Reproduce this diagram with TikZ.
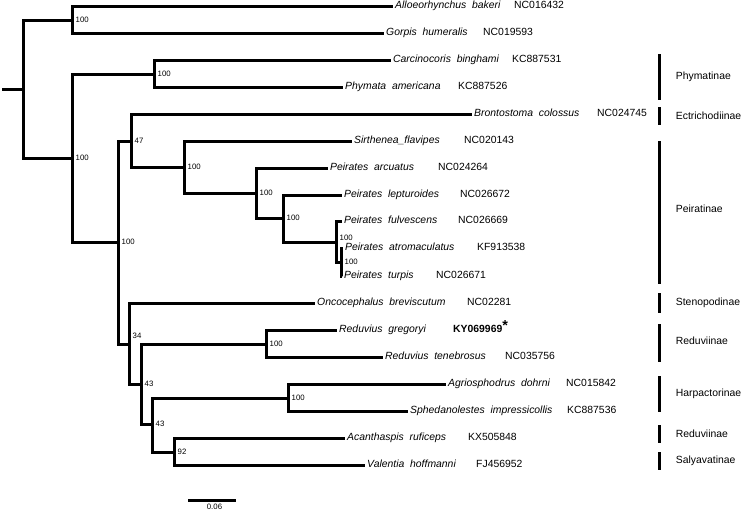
\documentclass[tikz,border=0pt]{standalone}
\usepackage{fontspec}
\setmainfont{Liberation Sans}
\usetikzlibrary{positioning}

\begin{document}
\begin{tikzpicture}[
     x=1pt, y=-1pt,
     % define styles
     branch/.style={
         line width=3pt
     },
     taxon/.style={
         anchor=west,
         inner sep=2pt,
         text height=7pt,
         text depth=2pt,
         font=\fontsize{10.4}{12}\selectfont\itshape
     },
     acc/.style={
         anchor=west,
         inner sep=0pt,
         text height=7pt,
         text depth=2pt,
         font=\fontsize{10.4}{12}\selectfont
     },
     boot/.style={
         anchor=west,
         inner sep=1pt,
         xshift=2.5pt,
         font=\fontsize{7.8}{9}\selectfont
     },
     cbar/.style={
         fill=black,
         inner sep=0pt,
         minimum width=3pt
     },
     clade/.style={
         anchor=west,
         inner sep=0pt,
         font=\fontsize{10.4}{12}\selectfont
     }
]
\useasboundingbox (0,0) rectangle (745,514);

% internal nodes of the tree
\coordinate (root) at (2,89);
\coordinate (nA) at (23,89);
\coordinate (n1) at (72,20);
\coordinate (nB) at (72,158);
\coordinate (nPhy) at (154,74);
\coordinate (nC) at (118,242);
\coordinate (nD) at (131,141);
\coordinate (nE) at (184,167);
\coordinate (nF) at (256,193);
\coordinate (nG) at (283,218);
\coordinate (nH) at (336,242);
\coordinate (nI) at (341,262);
\coordinate (nJ) at (129,344);
\coordinate (nK) at (141,384);
\coordinate (nRed) at (266,344);
\coordinate (nL) at (152,424);
\coordinate (nHarp) at (288,398);
\coordinate (nM) at (174,452);

% taxa and accession numbers
\node[taxon] (t1) at (393,6) {Alloeorhynchus\ \ bakeri};
\node[acc] (a1) at (514,6) {NC016432};
\node[taxon] (t2) at (384,33) {Gorpis\ \ humeralis};
\node[acc] (a2) at (483,33) {NC019593};
\node[taxon] (t3) at (391,60) {Carcinocoris\ \ binghami};
\node[acc] (a3) at (512,60) {KC887531};
\node[taxon] (t4) at (343,87) {Phymata\ \ americana};
\node[acc] (a4) at (458,87) {KC887526};
\node[taxon] (t5) at (472,114) {Brontostoma\ \ colossus};
\node[acc] (a5) at (597,114) {NC024745};
\node[taxon] (t6) at (352,141) {Sirthenea\_flavipes};
\node[acc] (a6) at (464,141) {NC020143};
\node[taxon] (t7) at (328,168) {Peirates\ \ arcuatus};
\node[acc] (a7) at (438,168) {NC024264};
\node[taxon] (t8) at (342,195) {Peirates\ \ lepturoides};
\node[acc] (a8) at (460,195) {NC026672};
\node[taxon] (t9) at (342,221) {Peirates\ \ fulvescens};
\node[acc] (a9) at (458,221) {NC026669};
\node[taxon] (t10) at (343,248) {Peirates\ \ atromaculatus};
\node[acc] (a10) at (477,248) {KF913538};
\node[taxon] (t11) at (342,276) {Peirates\ \ turpis};
\node[acc] (a11) at (436,276) {NC026671};
\node[taxon] (t12) at (315,303) {Oncocephalus\ \ breviscutum};
\node[acc] (a12) at (467,303) {NC02281};
\node[taxon] (t13) at (337,330) {Reduvius\ \ gregoryi};
\node[acc] (a13) at (453,330) {\textbf{KY069969}\raisebox{2.5pt}{\bfseries\Large *}};
\node[taxon] (t14) at (383,357) {Reduvius\ \ tenebrosus};
\node[acc] (a14) at (505,357) {NC035756};
\node[taxon] (t15) at (446,384) {Agriosphodrus\ \ dohrni};
\node[acc] (a15) at (566,384) {NC015842};
\node[taxon] (t16) at (408,411) {Sphedanolestes\ \ impressicollis};
\node[acc] (a16) at (567,411) {KC887536};
\node[taxon] (t17) at (345,438) {Acanthaspis\ \ ruficeps};
\node[acc] (a17) at (468,438) {KX505848};
\node[taxon] (t18) at (365,465) {Valentia\ \ hoffmanni};
\node[acc] (a18) at (476,465) {FJ456952};

% branches
\draw[branch] (root) -- (nA);
\draw[branch] (nA) |- (n1);
\draw[branch] (nA) |- (nB);
\draw[branch] (n1) |- (t1.west);
\draw[branch] (n1) |- (t2.west);
\draw[branch] (nB) |- (nPhy);
\draw[branch] (nB) |- (nC);
\draw[branch] (nPhy) |- (t3.west);
\draw[branch] (nPhy) |- (t4.west);
\draw[branch] (nC) |- (nD);
\draw[branch] (nC) |- (nJ);
\draw[branch] (nD) |- (t5.west);
\draw[branch] (nD) |- (nE);
\draw[branch] (nE) |- (t6.west);
\draw[branch] (nE) |- (nF);
\draw[branch] (nF) |- (t7.west);
\draw[branch] (nF) |- (nG);
\draw[branch] (nG) |- (t8.west);
\draw[branch] (nG) |- (nH);
\draw[branch] (nH) |- (t9.west);
\draw[branch] (nH) |- (nI);
\draw[branch] (nI) |- (t10.west);
\draw[branch] (nI) |- (t11.west);
\draw[branch] (nJ) |- (t12.west);
\draw[branch] (nJ) |- (nK);
\draw[branch] (nK) |- (nRed);
\draw[branch] (nK) |- (nL);
\draw[branch] (nRed) |- (t13.west);
\draw[branch] (nRed) |- (t14.west);
\draw[branch] (nL) |- (nHarp);
\draw[branch] (nL) |- (nM);
\draw[branch] (nHarp) |- (t15.west);
\draw[branch] (nHarp) |- (t16.west);
\draw[branch] (nM) |- (t17.west);
\draw[branch] (nM) |- (t18.west);

% bootstrap values
\node[boot] (s1) at (n1) {100};
\node[boot] (s2) at (nB) {100};
\node[boot] (s3) at (nPhy) {100};
\node[boot] (s4) at (nC) {100};
\node[boot] (s5) at (nD) {47};
\node[boot] (s6) at (nE) {100};
\node[boot] (s7) at (nF) {100};
\node[boot] (s8) at (nG) {100};
\node[boot, yshift=4pt] (s9) at (nH) {100};
\node[boot] (s10) at (nI) {100};
\node[boot, yshift=8pt] (s11) at (nJ) {34};
\node[boot] (s12) at (nK) {43};
\node[boot] (s13) at (nRed) {100};
\node[boot] (s14) at (nL) {43};
\node[boot] (s15) at (nHarp) {100};
\node[boot] (s16) at (nM) {92};

% subfamily bars
\node[cbar, minimum height=46pt] (b1) at (659,77) {};
\node[clade, right=15pt of b1] (c1) {Phymatinae};
\node[cbar, minimum height=18pt] (b2) at (659,116) {};
\node[clade, right=15pt of b2] (c2) {Ectrichodiinae};
\node[cbar, minimum height=143pt] (b3) at (659,212) {};
\node[clade, right=15pt of b3, yshift=3pt] (c3) {Peiratinae};
\node[cbar, minimum height=20pt] (b4) at (659,303) {};
\node[clade, right=15pt of b4] (c4) {Stenopodinae};
\node[cbar, minimum height=38pt] (b5) at (659,343) {};
\node[clade, right=15pt of b5, yshift=2pt] (c5) {Reduviinae};
\node[cbar, minimum height=36pt] (b6) at (659,394) {};
\node[clade, right=15pt of b6] (c6) {Harpactorinae};
\node[cbar, minimum height=18pt] (b7) at (659,434) {};
\node[clade, right=15pt of b7] (c7) {Reduviinae};
\node[cbar, minimum height=18pt] (b8) at (659,461) {};
\node[clade, right=15pt of b8] (c8) {Salyavatinae};

% scale bar
\coordinate (sc0) at (188,500);
\coordinate (sc1) at (236,500);
\draw[branch] (sc0) -- node[boot, anchor=north, xshift=0pt, yshift=-2pt] (sclab) {0.06} (sc1);
\end{tikzpicture}
\end{document}
